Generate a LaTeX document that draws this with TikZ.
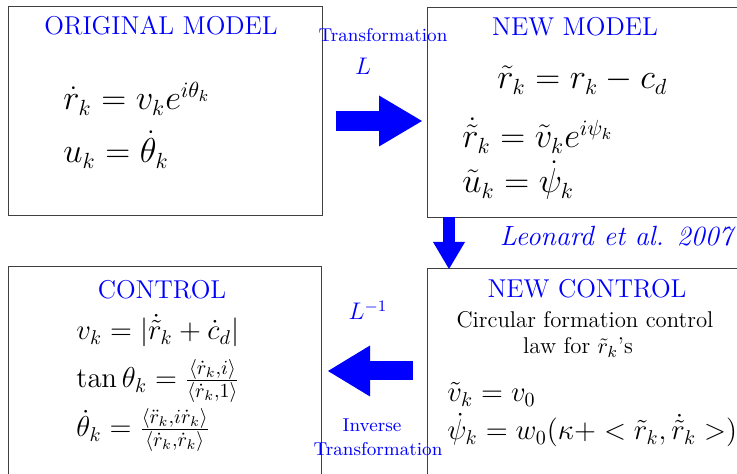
\documentclass[tikz,border=0pt]{standalone}
\usepackage{amsmath,amssymb,amsfonts}
\usepackage{tikz}
\usetikzlibrary{arrows.meta}
\tikzset{>=Triangle}
\usepackage{xcolor}

\begin{document}
\begin{tikzpicture}[x=0.5pt, y=-0.5pt,
    box/.style={draw=black!75, line width=0.6pt, anchor=north west, inner sep=0pt},
    title/.style={text=blue, anchor=base, inner sep=0pt, font=\fontsize{12.9}{15}\selectfont},
    bigeq/.style={anchor=base west, inner sep=0pt, font=\fontsize{16}{19}\selectfont},
    eq/.style={anchor=base west, inner sep=0pt, font=\fontsize{13.7}{16}\selectfont},
    note/.style={text=blue, anchor=base, inner sep=0pt, font=\fontsize{9.3}{11}\selectfont},
    lawtext/.style={anchor=base, inner sep=0pt, font=\fontsize{11.4}{13}\selectfont},
    blockarrow/.style={blue, line width=#1}]
                \useasboundingbox (0,0) rectangle (737,474);
                \clip (0,0) rectangle (737,474);
                % Cajas
                \node[box, minimum width=157pt, minimum height=104.5pt] (orig) at (8,6) {};
                \node[box, minimum width=166.5pt, minimum height=105pt] (newmodel) at (427,7) {};
                \node[box, minimum width=156.5pt, minimum height=112pt] (control) at (8,266) {};
                \node[box, minimum width=166.5pt, minimum height=111pt] (newcontrol) at (427,268) {};
                % Modelo original
                \node[title] (origtitle) at (161,35) {ORIGINAL MODEL};
                \node[bigeq] (origeqa) at (63,110) {$\dot{r}_k = v_k e^{i\theta_k}$};
                \node[bigeq] (origeqb) at (63,163) {$u_k = \dot{\theta}_k$};
                % Modelo nuevo
                \node[title] (newtitle) at (575,36) {NEW MODEL};
                \node[bigeq] (neweqa) at (497,89) {$\tilde{r}_k = r_k - c_d$};
                \node[bigeq] (neweqb) at (462,148) {$\dot{\tilde{r}}_k = \tilde{v}_k e^{i\psi_k}$};
                \node[bigeq] (neweqc) at (462,193) {$\tilde{u}_k = \dot{\psi}_k$};
                % Control
                \node[title] (ctrltitle) at (162,299) {CONTROL};
                \node[eq] (ctrleqa) at (76,340) {$v_k = |\dot{\tilde{r}}_k + \dot{c}_d|$};
                \node[eq] (ctrleqb) at (76,388) {$\tan\theta_k = \frac{\langle \dot{r}_k, i\rangle}{\langle \dot{r}_k, 1\rangle}$};
                \node[eq] (ctrleqc) at (76,437) {$\dot{\theta}_k = \frac{\langle \ddot{r}_k, i\dot{r}_k\rangle}{\langle \dot{r}_k, \dot{r}_k\rangle}$};
                % Control nuevo
                \node[title] (nctrltitle) at (587,298) {NEW CONTROL};
                \node[lawtext] (nctrltexta) at (585,328) {Circular formation control};
                \node[lawtext] (nctrltextb) at (578,354) {law for $\tilde{r}_k$'s};
                \node[eq] (nctrleqa) at (447,402) {$\tilde{v}_k = v_0$};
                \node[eq] (nctrleqb) at (447,440) {$\dot{\psi}_k = w_0(\kappa{+} < \tilde{r}_k, \dot{\tilde{r}}_k >)$};
                % Etiquetas de las flechas
                \node[note] (trlabel) at (383,42) {Transformation};
                \node[note, font=\fontsize{12}{14}\selectfont] (llabel) at (363,75) {$L$};
                \node[note, font=\fontsize{12}{14}\selectfont] (linvlabel) at (368,320) {$L^{-1}$};
                \node[note] (invlabel) at (372,432) {Inverse};
                \node[note] (invtrlabel) at (378,456) {Transformation};
                \node[anchor=base east, inner sep=0pt, text=blue, font=\fontsize{13.9}{16}\selectfont\itshape]
                    (refnote) at (733,246) {Leonard et al. 2007};
                % Flechas gruesas
                \coordinate (rtail) at (336,121);
                \coordinate (rhead) at (422,121);
                \draw[blockarrow=10pt, -{Triangle[length=21.5pt, width=25.5pt, line width=0pt]}] (rtail) -- (rhead);
                \coordinate (dtail) at (449,217);
                \coordinate (dhead) at (449,269);
                \draw[blockarrow=6pt, -{Triangle[length=13.5pt, width=16pt, line width=0pt]}] (dtail) -- (dhead);
                \coordinate (ltail) at (413,371);
                \coordinate (lhead) at (328,371);
                \draw[blockarrow=9.5pt, -{Triangle[length=21pt, width=25.5pt, line width=0pt]}] (ltail) -- (lhead);
\end{tikzpicture}
\end{document}
